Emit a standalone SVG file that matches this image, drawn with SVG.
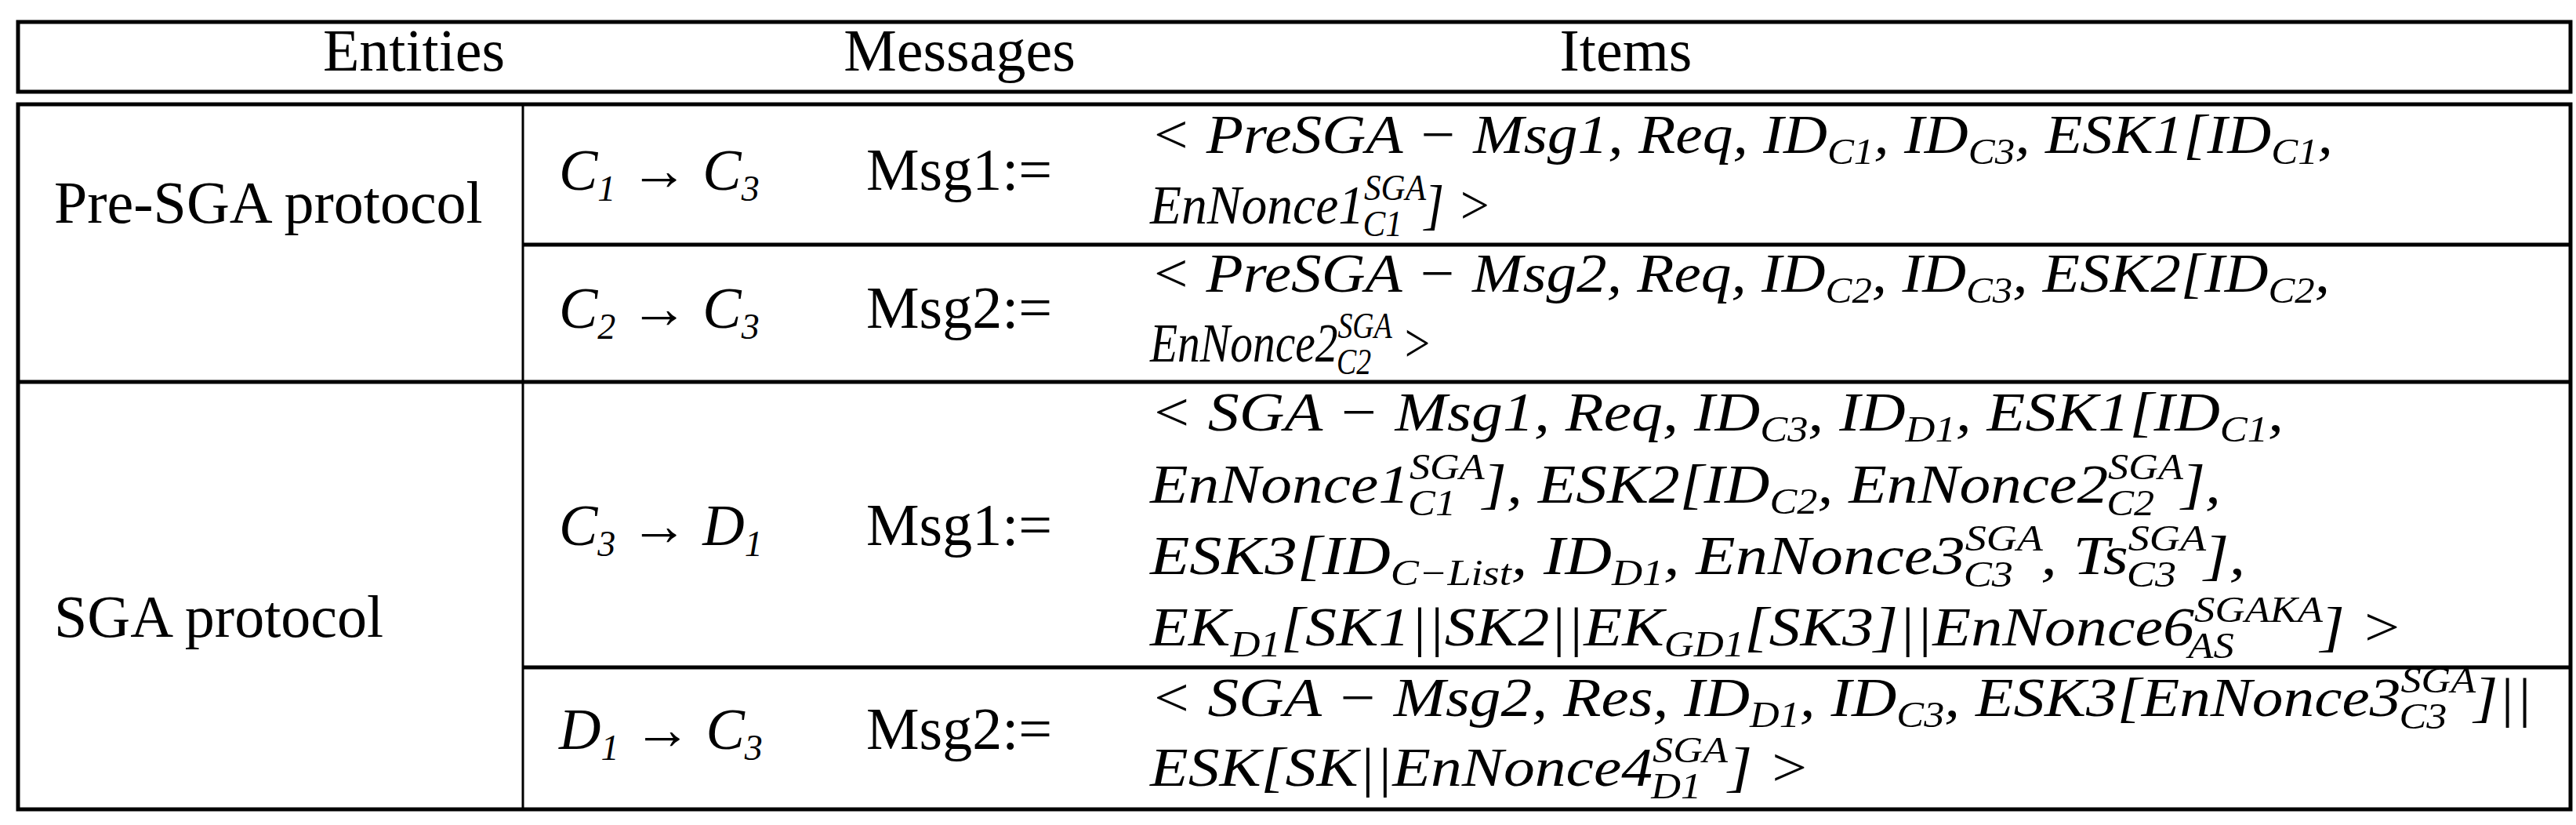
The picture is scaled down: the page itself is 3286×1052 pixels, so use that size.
<svg xmlns="http://www.w3.org/2000/svg" width="3286" height="1052" viewBox="0 0 3286 1052">
<style>
.t{font-family:"Liberation Serif",serif;font-size:76px;fill:#000}
.i{font-family:"Liberation Serif",serif;font-size:70px;font-style:italic;fill:#000}
.e{font-size:74px}
.s{font-size:46px}
.thick{stroke:#000;stroke-width:5;fill:none}
.thin{stroke:#000;stroke-width:3;fill:none}
</style>
<rect width="3286" height="1052" fill="#fff"/>
<g id="grid">
<rect class="thick" x="23" y="28" width="3256" height="89"/>
<rect class="thick" x="23" y="133" width="3256" height="899"/>
<line class="thin" x1="667" y1="133" x2="667" y2="1032"/>
<line class="thick" x1="667" y1="312" x2="3279" y2="312"/>
<line class="thick" x1="23" y1="487" x2="3279" y2="487"/>
<line class="thick" x1="667" y1="851" x2="3279" y2="851"/>
</g>
<g id="header">
<text class="t" x="528" y="90" text-anchor="middle">Entities</text>
<text class="t" x="1224" y="90" text-anchor="middle">Messages</text>
<text class="t" x="2074" y="90" text-anchor="middle">Items</text>
</g>
<g id="pre">
<text class="t" x="69" y="284">Pre-SGA protocol</text>
<text class="i e" x="713" y="242">C<tspan class="s" dy="14">1</tspan><tspan dy="-14" font-style="normal"> → </tspan>C<tspan class="s" dy="14">3</tspan></text>
<text class="t" x="1105" y="242">Msg1:=</text>
<text class="i" x="1467" y="195" textLength="1509" lengthAdjust="spacingAndGlyphs">&lt; PreSGA − Msg1, Req, ID<tspan class="s" dy="14">C1</tspan><tspan dy="-14">, ID</tspan><tspan class="s" dy="14">C3</tspan><tspan dy="-14">, ESK1[ID</tspan><tspan class="s" dy="14">C1</tspan><tspan dy="-14">,</tspan></text>
<text class="i" x="1467" y="285" textLength="436" lengthAdjust="spacingAndGlyphs">EnNonce1<tspan class="s" dy="-30">SGA</tspan><tspan class="s" dx="-86" dy="46">C1</tspan><tspan dx="30" dy="-16">] &gt;</tspan></text>
<text class="i e" x="713" y="418">C<tspan class="s" dy="14">2</tspan><tspan dy="-14" font-style="normal"> → </tspan>C<tspan class="s" dy="14">3</tspan></text>
<text class="t" x="1105" y="418">Msg2:=</text>
<text class="i" x="1467" y="372" textLength="1505" lengthAdjust="spacingAndGlyphs">&lt; PreSGA − Msg2, Req, ID<tspan class="s" dy="14">C2</tspan><tspan dy="-14">, ID</tspan><tspan class="s" dy="14">C3</tspan><tspan dy="-14">, ESK2[ID</tspan><tspan class="s" dy="14">C2</tspan><tspan dy="-14">,</tspan></text>
<text class="i" x="1467" y="461" textLength="360" lengthAdjust="spacingAndGlyphs">EnNonce2<tspan class="s" dy="-30">SGA</tspan><tspan class="s" dx="-86" dy="46">C2</tspan><tspan dx="30" dy="-16"> &gt;</tspan></text>
</g>
<g id="sga">
<text class="t" x="69" y="812">SGA protocol</text>
<text class="i e" x="713" y="695">C<tspan class="s" dy="14">3</tspan><tspan dy="-14" font-style="normal"> → </tspan>D<tspan class="s" dy="14">1</tspan></text>
<text class="t" x="1105" y="695">Msg1:=</text>
<text class="i" x="1467" y="549" textLength="1446" lengthAdjust="spacingAndGlyphs">&lt; SGA − Msg1, Req, ID<tspan class="s" dy="14">C3</tspan><tspan dy="-14">, ID</tspan><tspan class="s" dy="14">D1</tspan><tspan dy="-14">, ESK1[ID</tspan><tspan class="s" dy="14">C1</tspan><tspan dy="-14">,</tspan></text>
<text class="i" x="1467" y="641" textLength="1366" lengthAdjust="spacingAndGlyphs">EnNonce1<tspan class="s" dy="-30">SGA</tspan><tspan class="s" dx="-86" dy="46">C1</tspan><tspan dx="30" dy="-16">], ESK2[ID</tspan><tspan class="s" dy="14">C2</tspan><tspan dy="-14">, EnNonce2</tspan><tspan class="s" dy="-30">SGA</tspan><tspan class="s" dx="-86" dy="46">C2</tspan><tspan dx="30" dy="-16">],</tspan></text>
<text class="i" x="1467" y="732" textLength="1397" lengthAdjust="spacingAndGlyphs">ESK3[ID<tspan class="s" dy="14">C−List</tspan><tspan dy="-14">, ID</tspan><tspan class="s" dy="14">D1</tspan><tspan dy="-14">, EnNonce3</tspan><tspan class="s" dy="-30">SGA</tspan><tspan class="s" dx="-86" dy="46">C3</tspan><tspan dx="30" dy="-16">, Ts</tspan><tspan class="s" dy="-30">SGA</tspan><tspan class="s" dx="-86" dy="46">C3</tspan><tspan dx="30" dy="-16">],</tspan></text>
<text class="i" x="1467" y="823" textLength="1598" lengthAdjust="spacingAndGlyphs">EK<tspan class="s" dy="14">D1</tspan><tspan dy="-14">[SK1||SK2||EK</tspan><tspan class="s" dy="14">GD1</tspan><tspan dy="-14">[SK3]||EnNonce6</tspan><tspan class="s" dy="-30">SGAKA</tspan><tspan class="s" dx="-150" dy="46">AS</tspan><tspan dx="96" dy="-16">] &gt;</tspan></text>
<text class="i e" x="713" y="955">D<tspan class="s" dy="14">1</tspan><tspan dy="-14" font-style="normal"> → </tspan>C<tspan class="s" dy="14">3</tspan></text>
<text class="t" x="1105" y="955">Msg2:=</text>
<text class="i" x="1467" y="913" textLength="1763" lengthAdjust="spacingAndGlyphs">&lt; SGA − Msg2, Res, ID<tspan class="s" dy="14">D1</tspan><tspan dy="-14">, ID</tspan><tspan class="s" dy="14">C3</tspan><tspan dy="-14">, ESK3[EnNonce3</tspan><tspan class="s" dy="-30">SGA</tspan><tspan class="s" dx="-86" dy="46">C3</tspan><tspan dx="30" dy="-16">]||</tspan></text>
<text class="i" x="1467" y="1002" textLength="842" lengthAdjust="spacingAndGlyphs">ESK[SK||EnNonce4<tspan class="s" dy="-30">SGA</tspan><tspan class="s" dx="-86" dy="46">D1</tspan><tspan dx="30" dy="-16">] &gt;</tspan></text>
</g>
</svg>
